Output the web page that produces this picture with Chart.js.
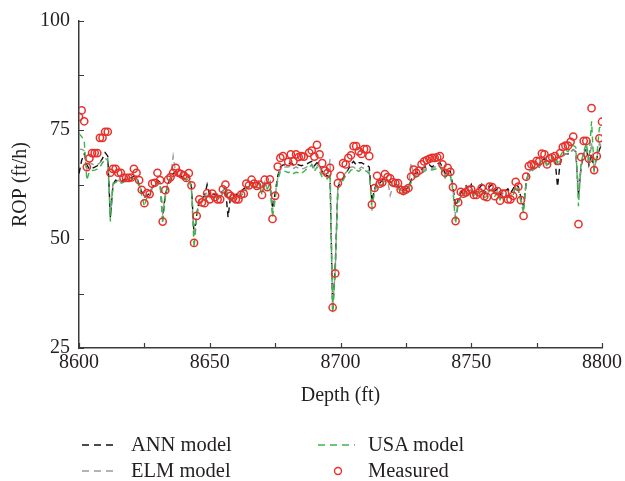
<!DOCTYPE html>
<html>
<head>
<meta charset="utf-8">
<script src="https://cdn.jsdelivr.net/npm/chart.js@4.4.1/dist/chart.umd.min.js"></script>
<style>
  body { margin: 0; background: #fff; }
  #wrap { position: relative; width: 625px; height: 481px; }
  #legend { position: absolute; left: 0; top: 0; width: 625px; height: 481px; pointer-events: none;
            font-family: "Liberation Serif", "Times New Roman", serif; font-size: 20.5px; color: #231f20; }
  .lab { position: absolute; line-height: 22px; white-space: nowrap; }
  #legend svg { position: absolute; left: 0; top: 0; }
</style>
</head>
<body>
<div id="wrap">
  <canvas id="ropChart" width="625" height="481"></canvas>
  <div id="legend">
    <svg width="625" height="481">
      <line x1="82" y1="445" x2="118" y2="445" stroke="#111" stroke-width="1.5" stroke-dasharray="7,5"/>
      <line x1="82" y1="471" x2="118" y2="471" stroke="#9a9a9a" stroke-width="1.5" stroke-dasharray="7,5"/>
      <line x1="318" y1="445" x2="355" y2="445" stroke="#3cb44b" stroke-width="1.5" stroke-dasharray="7,5"/>
      <circle cx="338" cy="471" r="3.5" fill="none" stroke="#e8302a" stroke-width="1.4"/>
    </svg>
    <div class="lab" style="left:131px; top:433px;">ANN model</div>
    <div class="lab" style="left:131px; top:459px;">ELM model</div>
    <div class="lab" style="left:368px; top:433px;">USA model</div>
    <div class="lab" style="left:368px; top:459px;">Measured</div>
  </div>
</div>
<script>
// depth runs 8600..8800 ft, one reading per foot
const depthStart = 8600;

const measured = [
  78, 79.5, 77, 66.5, 68.5, 69.7, 69.7, 69.7, 73.2, 73.2,      // 8600
  74.6, 74.6, 65.2, 66.1, 66.1, 65.2, 65.2, 64, 64, 64,        // 8610
  64.1, 66.1, 65.2, 63.5, 61.3, 58.2, 60.5, 60.3, 62.7, 62.9,  // 8620
  65.2, 63.5, 54, 61.2, 63.6, 64.2, 65.2, 66.3, 65.2, 64.9,    // 8630
  64.6, 64, 65.1, 62.3, 49.1, 55.3, 59.1, 58.4, 58.2, 60.5,    // 8640
  59.1, 60.4, 59.6, 59.1, 59.1, 61.4, 62.5, 60.4, 59.9, 59.5,  // 8650
  59.1, 59.1, 60.2, 60.4, 62.7, 62.3, 63.6, 62.7, 62.2, 62.5,  // 8660
  60.1, 63.6, 61.9, 63.7, 54.6, 59.9, 66.6, 68.6, 69, null,    // 8670
  67.7, 69.4, 67.8, 69.4, 68.8, 69, 68.9, null, 69.8, 70.3,    // 8680
  68.9, 71.6, 69.4, 67.4, 65.7, 65.1, 66.3, 34.3, 42.1, 62.8,  // 8690
  64.5, 67.4, 67.1, 68.6, 69.2, 71.3, 71.3, 70.1, 69.5, 70.6,  // 8700
  70.6, 69, 57.9, 61.7, 64.5, 62.7, 63, 64.9, 64.2, 63.9,      // 8710
  63, 62.8, 62.8, 61.3, 61, 61.3, 61.7, 64.3, 65.9, 65.2,      // 8720
  65.7, 67.1, 67.8, 68.1, 68.4, 68.6, 68.6, 68.7, 69, 67.1,    // 8730
  65.2, 66.3, 65.4, 61.9, 54.1, 58.4, 60.8, 60.4, 60.7, 61.3,  // 8740
  61.4, 60.1, 60.1, 60.7, 61.7, 59.8, 59.6, 62, 61.9, 59.8,    // 8750
  61, 58.8, 60.4, 60.4, 59.1, 59.1, 59.9, 63.1, 62, 58.9,      // 8760
  55.3, 64.3, 66.7, 67.1, 67, 67.9, 67.8, 69.6, 69.4, 67.1,    // 8770
  68.5, 68.7, 69, 67.9, 69.7, 71.1, 71.4, 71.4, 72.3, 73.5,    // 8780
  null, 53.4, 68.8, 72.5, 72.5, 68.4, 80, 65.8, 69, 73.1, 76.9 // 8790
];

const annModel = [
  65, 68, 69.5, 67, 66, 66.2, 66.5, 66.8, 67.5, 68.5,
  69.8, 69, 55, 62.5, 63.5, 63.2, 63, 63.5, 63.8, 64,
  64, 64.5, 64.3, 62.5, 60.8, 59.5, 60, 60.5, 61.8, 62.5,
  63.5, 63, 55.5, 60, 62.5, 64, 65, 65.5, 64.8, 64.5,
  64, 63.8, 64.5, 62, 51, 55.5, 59, 59.5, 59.8, 62.5,
  60, 60.5, 60, 60.2, 60.5, 61, 61.8, 55, 60, 60,
  60.2, 60.5, 61, 61.5, 62, 62.5, 63, 62.5, 62.5, 62.8,
  61.5, 62.5, 62, 63, 57, 60.5, 64.5, 66.5, 67, 67,
  67.2, 67.5, 67, 67.2, 67, 66.8, 67, 67.2, 67.5, 67.8,
  66.8, 67.5, 67, 65.5, 64.8, 64.5, 64, 33.5, 44, 62,
  63, 64, 65, 66, 67.2, 67.8, 67, 67.5, 67.5, 67.2,
  67, 66.5, 58.5, 61.5, 63, 62.8, 63.5, 64, 63.5, 63.2,
  62.5, 62.5, 62.3, 61.5, 61.2, 61.5, 61.8, 63.5, 65, 65,
  65.5, 66, 66.5, 66.5, 67, 66.5, 67, 67.2, 67.5, 66.5,
  65, 65.8, 65.5, 62, 57.5, 59, 60.5, 61.5, 62.2, 61,
  62.5, 60.5, 61, 61.5, 62.5, 60.5, 61, 62, 62.5, 61,
  61.5, 60, 61, 61, 61.5, 60.5, 61.5, 62.5, 62, 59.5,
  57.5, 63, 65.5, 66, 66.5, 67, 66.5, 68, 68.5, 67,
  67.5, 68, 68.5, 62, 67.5, 69, 69.5, 69.5, 70, 70.5,
  70, 60, 66.5, 69.5, 71, 67, 69.5, 66, 68.5, 70.5, 72
];

const elmModel = [
  70.5, 70.6, 70.2, 66, 67.5, 67.2, 67, 67, 67.5, 68,
  68.5, 68, 56, 62.8, 63, 63.5, 63, 63.2, 63.5, 63.8,
  64, 64.3, 64, 62.5, 60.5, 59.8, 60.2, 60.5, 62, 62.5,
  63.2, 62.8, 56, 60.5, 63, 64, 69, 65, 64.5, 64.2,
  64.2, 63.5, 64, 61.5, 50.5, 56, 59, 59, 59.5, 61,
  59.5, 60.2, 59.8, 59.5, 60, 61, 62, 60, 59.5, 59.5,
  59.5, 60, 60.5, 61, 62, 62, 63, 62, 62, 62.5,
  60.5, 63, 61.5, 63, 56.5, 60, 64, 66, 66.5, 66.5,
  66.5, 66.8, 66.2, 66.5, 66.2, 66, 66.2, 66.5, 67, 67.2,
  66.2, 67, 66.5, 65, 64.5, 64.2, 68.3, 34, 43, 62.5,
  63.5, 64.5, 65.2, 65.8, 66.5, 66.5, 66, 66, 66.5, 66.2,
  66, 65.5, 56.5, 61, 63.2, 62.5, 63, 63.8, 63.5, 60,
  62, 62.2, 62.5, 61.2, 61, 61.2, 61.5, 67.5, 64.5, 64.8,
  65, 65.5, 66, 66.2, 66.3, 66, 66.5, 66.5, 67, 66,
  64.5, 65.5, 65, 61.5, 55, 58.5, 60, 60.5, 61, 60.5,
  61.5, 60, 60.5, 61, 61.5, 59.8, 60, 61.5, 61.5, 60,
  61, 59.5, 60.5, 60.5, 60, 59.8, 60.5, 62.5, 61.5, 59,
  57, 63, 65.5, 65.8, 66, 66.5, 66.5, 67.5, 68, 66.5,
  67.5, 68, 68.5, 66.5, 68, 69, 69.5, 69.5, 70, 70.5,
  70, 61, 67, 69.5, 71, 67, 72, 66, 68.5, 72, 71
];

const usaModel = [
  74.2, 73.5, 72.5, 63.5, 65.5, 65.7, 65.8, 66, 66.5, 67.5,
  68, 68.5, 54, 62.5, 63, 63, 62.8, 63, 63.5, 63.5,
  63.5, 64, 64, 62, 60, 57.5, 59.5, 60, 61.5, 62,
  63, 62.5, 53.5, 59.5, 62.5, 63.5, 64.5, 65, 64.5, 64,
  63.8, 63.5, 64, 61.5, 48, 55, 58.5, 58.5, 59, 60,
  59.2, 59.8, 59.5, 59.2, 59.5, 60.5, 61.5, 60, 59.5, 59.2,
  59.2, 59.5, 60, 60.5, 61.5, 61.8, 62.5, 62, 61.8, 62,
  60.2, 62.5, 61.5, 62.5, 55, 59, 63.5, 65.5, 65.5, 65.5,
  65.2, 65.5, 65, 65.3, 65.2, 65, 65.5, 66, 66.5, 67,
  65.5, 66.5, 65.5, 64.2, 64, 63.8, 65, 33, 42.5, 61.5,
  62.5, 63.5, 64.5, 65, 65.8, 66, 65.8, 65.5, 66, 65.8,
  65.5, 65, 58, 60.5, 62.5, 62.2, 62.5, 63.5, 63.2, 62.5,
  62, 62, 61.8, 60.8, 60.5, 60.8, 61.2, 63, 64, 64.2,
  64.5, 65, 65.5, 65.9, 66, 65.8, 66, 66.2, 66.5, 65.5,
  64, 65, 64.5, 61, 53.5, 58, 59.8, 60, 60.5, 60.2,
  61, 59.8, 60, 60.5, 61, 59.5, 59.8, 61, 61.2, 59.8,
  60.5, 59, 60, 60.2, 59.5, 59.5, 60, 62, 61, 58.5,
  56, 62.5, 65, 65.5, 66, 66.5, 67, 68, 68.5, 67,
  68, 68.5, 69, 67.5, 69, 70, 70.5, 70, 71, 71.5,
  71, 57.5, 67.5, 70, 72, 68, 77, 66, 69, 75.5, 76
];

// tick marks (drawn inward), labelled every 50 ft / 25 ft/h
const xTickValues = [8600, 8625, 8650, 8675, 8700, 8725, 8750, 8775, 8800];
const yTickValues = [25, 37.5, 50, 62.5, 75, 87.5, 100];

const depths = measured.map((_, i) => depthStart + i);
const toPoints = arr => arr.map((v, i) => ({ x: depths[i], y: v }));

const axisColor = '#3a3a3a';
const textColor = '#231f20';

Chart.defaults.font.family = '"Liberation Serif", "Times New Roman", serif';
Chart.defaults.font.size = 20;
Chart.defaults.color = textColor;

const inwardTicks = {
    id: 'inwardTicks',
    afterDraw(chart) {
        const { ctx, chartArea, scales } = chart;
        ctx.save();
        ctx.strokeStyle = axisColor;
        ctx.lineWidth = 1.2;
        ctx.beginPath();
        xTickValues.forEach(v => {
            const px = Math.round(scales.x.getPixelForValue(v)) + 0.5;
            ctx.moveTo(px, chartArea.bottom);
            ctx.lineTo(px, chartArea.bottom - 5);
        });
        yTickValues.forEach(v => {
            const py = Math.round(scales.y.getPixelForValue(v)) + 0.5;
            ctx.moveTo(chartArea.left, py);
            ctx.lineTo(chartArea.left + 5, py);
        });
        ctx.stroke();
        ctx.restore();
    }
};

const lineSet = (label, data, color, order) => ({
    label: label,
    data: toPoints(data),
    borderColor: color,
    borderWidth: 1.4,
    borderDash: [6, 4],
    pointRadius: 0,
    fill: false,
    tension: 0,
    order: order
});

new Chart(document.getElementById('ropChart').getContext('2d'), {
    type: 'line',
    data: {
        datasets: [
            lineSet('ANN model', annModel, '#111111', 4),
            lineSet('ELM model', elmModel, '#9a9a9a', 3),
            lineSet('USA model', usaModel, '#3cb44b', 2),
            {
                label: 'Measured',
                data: toPoints(measured),
                showLine: false,
                pointRadius: 3.6,
                pointBorderWidth: 1.5,
                pointBorderColor: '#e8302a',
                pointBackgroundColor: 'rgba(0,0,0,0)',
                order: 1
            }
        ]
    },
    options: {
        responsive: false,
        animation: false,
        devicePixelRatio: 1,
        layout: { padding: { left: 0, top: 20, right: 21, bottom: 73 } },
        scales: {
            x: {
                type: 'linear',
                min: 8600,
                max: 8800,
                afterFit: s => { s.height = 60; },
                grid: { drawOnChartArea: false, drawTicks: false },
                border: { display: true, color: axisColor, width: 1.5 },
                ticks: { stepSize: 50, padding: 3, color: textColor, callback: v => String(v) },
                title: { display: true, text: 'Depth (ft)', color: textColor, padding: { top: 0, bottom: 0 } }
            },
            y: {
                min: 25,
                max: 100,
                afterFit: s => { s.width = 79; },
                grid: { drawOnChartArea: false, drawTicks: false },
                border: { display: true, color: axisColor, width: 1.5 },
                ticks: { stepSize: 25, padding: 9, color: textColor },
                title: { display: true, text: 'ROP (ft/h)', color: textColor, padding: { top: 9, bottom: 0 } }
            }
        },
        plugins: {
            legend: { display: false },
            tooltip: { enabled: false }
        }
    },
    plugins: [inwardTicks]
});
</script>
</body>
</html>
